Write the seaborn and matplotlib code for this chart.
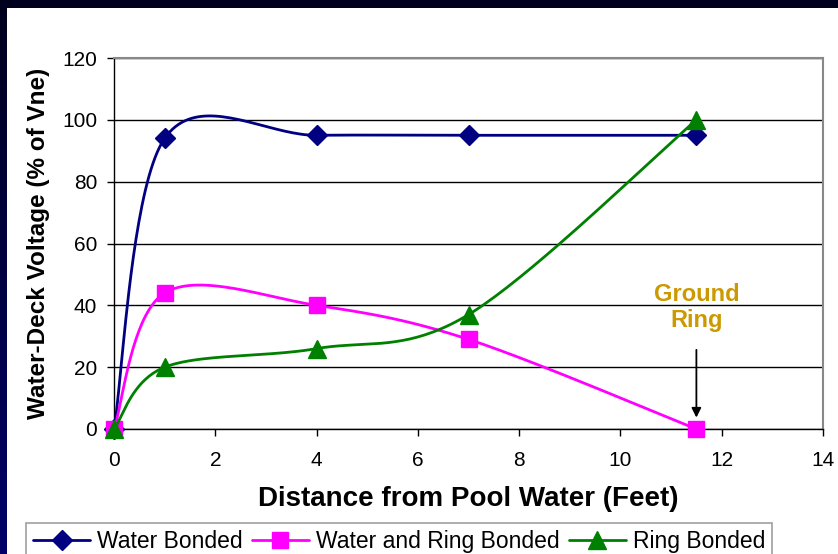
import numpy as np
import matplotlib
matplotlib.use("Agg")
import matplotlib.pyplot as plt
import seaborn as sns

# ─────────────────────────────────────────────
# DATA
# ─────────────────────────────────────────────
distance_ft = [0, 1, 4, 7, 11.5]
water_bonded = [0, 94, 95, 95, 95]
water_ring_bonded = [0, 44, 40, 29, 0]
ring_bonded = [0, 20, 26, 37, 100]

series_names = ["Water Bonded", "Water and Ring Bonded", "Ring Bonded"]
x_ticks = [0, 2, 4, 6, 8, 10, 12, 14]
y_ticks = [0, 20, 40, 60, 80, 100, 120]

COLORS = {
    "Water Bonded": "#000080",
    "Water and Ring Bonded": "#FF00FF",
    "Ring Bonded": "#008000",
}
MARKERS = {
    "Water Bonded": ("D", 10.5),
    "Water and Ring Bonded": ("s", 12),
    "Ring Bonded": ("^", 13),
}
N_SEG = 40


def smooth_line(xs, ys, n=N_SEG):
    """Excel style smoothed line: cubic bezier through the data points."""
    pts = np.column_stack([xs, ys]).astype(float)
    out = [pts[0]]
    t = np.linspace(0, 1, n + 1)[1:, None]
    for i in range(len(pts) - 1):
        p0 = pts[max(i - 1, 0)]
        p1, p2 = pts[i], pts[i + 1]
        p3 = pts[min(i + 2, len(pts) - 1)]
        c1 = p1 + (p2 - p0) / 6
        c2 = p2 - (p3 - p1) / 6
        seg = ((1 - t) ** 3) * p1 + 3 * ((1 - t) ** 2) * t * c1 \
            + 3 * (1 - t) * t ** 2 * c2 + t ** 3 * p2
        out.extend(seg)
    return np.array(out)


sns.set_theme(style="white")
plt.rcParams["font.family"] = ["Liberation Sans", "DejaVu Sans"]
plt.rcParams.update({
    "text.color": "black",
    "axes.labelcolor": "black",
    "xtick.color": "black",
    "ytick.color": "black",
})

fig = plt.figure(figsize=(8.38, 5.54), dpi=100)
fig.patch.set_facecolor("white")

# slide frame: dark top band + navy gradient on the left
top_band = fig.add_axes([0, 1 - 8 / 554, 1, 8 / 554])
top_band.set_axis_off()
top_band.add_patch(plt.Rectangle((0, 0), 1, 1, color="#00001E", transform=top_band.transAxes))
left_band = fig.add_axes([0, 0, 6 / 838, 1 - 8 / 554])
grad = np.linspace(0, 1, 256)[:, None]
cmap = matplotlib.colors.LinearSegmentedColormap.from_list("frame", ["#00001E", "#000068"])
left_band.imshow(grad, aspect="auto", cmap=cmap)
left_band.set_axis_off()

ax = fig.add_axes([114 / 838, 1 - 429 / 554, (823 - 114) / 838, (429 - 58) / 554])
ax.set_facecolor("white")

for name, ys in zip(series_names, [water_bonded, water_ring_bonded, ring_bonded]):
    curve = smooth_line(distance_ft, ys)
    marker, ms = MARKERS[name]
    ax.plot(curve[:, 0], curve[:, 1], color=COLORS[name], lw=2.0,
            marker=marker, markersize=ms, markevery=list(range(0, len(curve), N_SEG)),
            label=name, clip_on=False, zorder=3)

ax.set_xlim(0, 14)
ax.set_ylim(0, 120)
ax.set_xticks(x_ticks)
ax.set_yticks(y_ticks)
ax.yaxis.grid(True, color="black", lw=1)
ax.xaxis.grid(False)
ax.tick_params(axis="both", which="major", direction="out", length=5, width=1,
               color="black", labelsize=15, labelcolor="black",
               bottom=True, left=True)
ax.tick_params(axis="x", pad=11)
ax.tick_params(axis="y", pad=7)
for side in ["top", "right"]:
    ax.spines[side].set_color("#888888")
    ax.spines[side].set_linewidth(1.5)
for side in ["left", "bottom"]:
    ax.spines[side].set_color("black")
    ax.spines[side].set_linewidth(1)
ax.set_axisbelow(True)

ax.set_xlabel("Distance from Pool Water (Feet)", fontsize=20, fontweight="bold", labelpad=11)
ax.set_ylabel("Water-Deck Voltage (% of Vne)", fontsize=17.5, fontweight="bold", labelpad=9)

ax.annotate("", xy=(11.5, 2.8), xytext=(11.5, 26.5),
            arrowprops=dict(arrowstyle="-|>", color="black", lw=1.3, mutation_scale=14))
ax.text(11.5, 39.2, "Ground\nRing", ha="center", va="center", color="#CC9900",
        fontsize=17, fontweight="bold", linespacing=1.15)

leg = fig.legend(loc="upper left", bbox_to_anchor=(26 / 838, 1 - 523 / 554),
                 ncol=3, fontsize=16.5, frameon=True, fancybox=False,
                 edgecolor="#888888", handlelength=2.5, handletextpad=0.3,
                 columnspacing=0.4, borderpad=0.3, borderaxespad=0)
leg.get_frame().set_linewidth(1.2)

fig.savefig("out.png", dpi=100, facecolor=fig.get_facecolor())
